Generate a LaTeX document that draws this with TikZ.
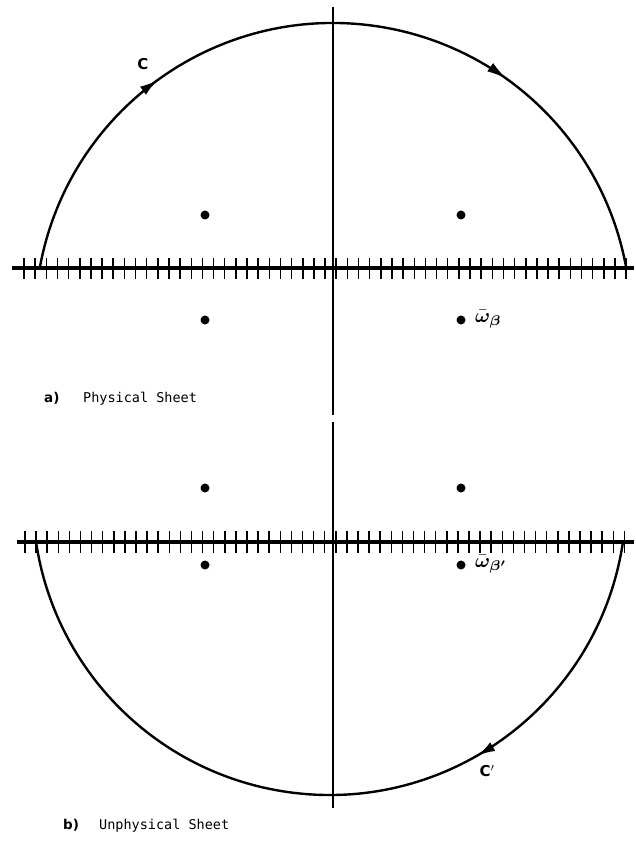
\documentclass[tikz,border=0pt]{standalone}
\usepackage{fontspec}
\usepackage{bm}
\usepackage{graphicx}
\usetikzlibrary{arrows.meta,decorations.markings}
\newfontfamily\monof{DejaVu Sans Mono}
\newfontfamily\labf{DejaVu Sans}
\begin{document}
\begin{tikzpicture}[x=1pt,y=-1pt,
  axisline/.style={line width=3.5pt},
  tickline/.style={line width=1.5pt},
  curve/.style={line width=2.4pt},
  vline/.style={line width=2.4pt},
  dot/.style={circle,fill=black,inner sep=0pt,minimum size=9pt},
  biglabel/.style={font=\labf\bfseries\fontsize{15}{17}\selectfont,inner sep=0pt},
  omlabel/.style={inner sep=0pt,anchor=base west},
  caption/.style={font=\monof\fontsize{13.5}{15}\selectfont,inner sep=0pt,anchor=base west},
  captag/.style={font=\labf\bfseries\fontsize{13.5}{15}\selectfont,inner sep=0pt,anchor=base west},
  arr/.style={decoration={markings,mark=at position #1 with {\arrow{Latex[length=18pt,width=10pt]}}},postaction={decorate}}
]
\useasboundingbox (0,0) rectangle (636,842);

% ---------- (a) Physical sheet ----------
\coordinate (aL) at (12,268);
\coordinate (aR) at (634,268);
\coordinate (aT) at (333,7);
\coordinate (aB) at (333,415);
\coordinate (aC) at (333,321);
\draw[axisline] (aL) -- (aR);
\foreach \i in {0,...,54}
  \draw[tickline] ({24+11.15*\i},258) -- ({24+11.15*\i},279);
\draw[vline] (aT) -- (aB);
\draw[curve,arr=0.274] (aC) ++(190.24:298) arc[start angle=190.24,end angle=349.76,radius=298];
\path[arr=0.721] (aC) ++(190.24:298) arc[start angle=190.24,end angle=349.76,radius=298];

\node[dot] (a1) at (205,215) {};
\node[dot] (a2) at (461,215) {};
\node[dot] (a3) at (205,320) {};
\node[dot] (a4) at (461,320) {};
\node[omlabel] (aom) at (475,322) {\scalebox{2}{$\bar{\bm{\omega}}_{\bm{\beta}}$}};
\node[biglabel] (aCl) at (143,64) {C};
\node[captag] (atag) at (44,402) {a)};
\node[caption] (acap) at (83,402) {Physical Sheet};

% ---------- (b) Unphysical sheet ----------
\coordinate (bL) at (17,542);
\coordinate (bR) at (634,542);
\coordinate (bT) at (333,422);
\coordinate (bB) at (333,808);
\coordinate (bC) at (329.5,498.3);
\draw[axisline] (bL) -- (bR);
\foreach \i in {0,...,54}
  \draw[tickline] ({25+11.1*\i},531) -- ({25+11.1*\i},553);
\draw[vline] (bT) -- (bB);
\draw[curve,arr=0.317] (bC) ++(8.47:296.7) arc[start angle=8.47,end angle=171.53,radius=296.7];

\node[dot] (b1) at (205,488) {};
\node[dot] (b2) at (461,488) {};
\node[dot] (b3) at (205,565) {};
\node[dot] (b4) at (461,565) {};
\node[omlabel] (bom) at (475,567) {\scalebox{2}{$\bar{\bm{\omega}}_{\bm{\beta'}}$}};
\node[biglabel] (bCl) at (487,771) {C$'$};
\node[captag] (btag) at (63,829) {b)};
\node[caption] (bcap) at (99,829) {Unphysical Sheet};
\end{tikzpicture}
\end{document}
